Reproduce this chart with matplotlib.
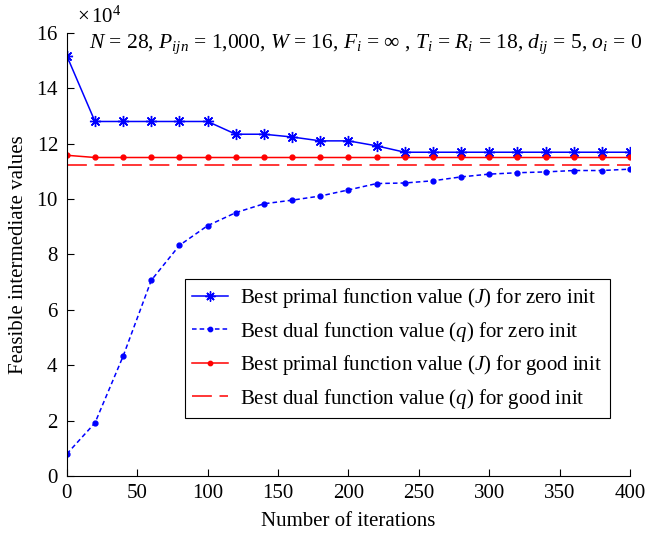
import numpy as np
import matplotlib
matplotlib.use("Agg")
import matplotlib.pyplot as plt

# data
iters = [0, 20, 40, 60, 80, 100, 120, 140, 160, 180, 200,
         220, 240, 260, 280, 300, 320, 340, 360, 380, 400]
primal_zero = [15.17, 12.8, 12.8, 12.8, 12.8, 12.8, 12.34, 12.34, 12.24, 12.1, 12.1,
               11.92, 11.69, 11.69, 11.69, 11.69, 11.69, 11.69, 11.69, 11.69, 11.69]
dual_zero = [0.8, 1.92, 4.33, 7.07, 8.33, 9.04, 9.51, 9.83, 9.96, 10.11, 10.33,
             10.56, 10.58, 10.66, 10.80, 10.90, 10.95, 10.98, 11.03, 11.03, 11.08]
primal_good = [11.58, 11.5, 11.5, 11.5, 11.5, 11.5, 11.5, 11.5, 11.5, 11.5, 11.5,
               11.5, 11.5, 11.5, 11.5, 11.5, 11.5, 11.5, 11.5, 11.5, 11.5]
dual_good = [11.22] * len(iters)

scale = 1e4
labels = [r"Best primal function value ($J$) for zero init",
          r"Best dual function value ($q$) for zero init",
          r"Best primal function value ($J$) for good init",
          r"Best dual function value ($q$) for good init"]


def main():
    plt.rcParams['font.family'] = ['Liberation Serif', 'DejaVu Serif']
    plt.rcParams['mathtext.fontset'] = 'custom'
    plt.rcParams['mathtext.rm'] = 'Liberation Serif'
    plt.rcParams['mathtext.it'] = 'Liberation Serif:italic'
    plt.rcParams['font.size'] = 15

    fig = plt.figure(figsize=(6.55, 5.38), dpi=100)
    ax = fig.add_axes([0.102, 0.115, 0.860, 0.824])

    x = np.array(iters)
    ax.plot(x, np.array(primal_zero) * scale, color='blue', lw=1.1,
            marker=(8, 2, 0), ms=8, mew=1.0, label=labels[0])
    ax.plot(x, np.array(dual_zero) * scale, color='blue', lw=1.1,
            linestyle=(0, (3, 2)), marker='.', ms=7, label=labels[1])
    ax.plot(x, np.array(primal_good) * scale, color='red', lw=1.1,
            marker='.', ms=7, label=labels[2])
    ax.plot(x, np.array(dual_good) * scale, color='red', lw=1.1,
            linestyle=(0, (13, 5)), label=labels[3])

    ax.set_xlim(0, 400)
    ax.set_ylim(0, 16 * scale)
    ax.set_xticks(np.arange(0, 401, 50))
    ax.set_yticks(np.arange(0, 16.1, 2) * scale)
    ax.ticklabel_format(axis='y', style='sci', scilimits=(4, 4), useMathText=True)
    ax.yaxis.get_offset_text().set_visible(False)
    ax.text(0.018, 1.012, r"$\times\,10^4$", transform=ax.transAxes,
            ha='left', va='bottom', fontsize=15)

    ax.spines['top'].set_visible(False)
    ax.spines['right'].set_visible(False)
    ax.tick_params(direction='in', length=5, width=0.8, pad=6)

    ax.set_xlabel("Number of iterations", labelpad=6)
    ax.set_ylabel("Feasible intermediate values", labelpad=6)

    ax.text(0.04, 0.975,
            r"$N$ = 28, $P_{ijn}$ = 1,000, $W$ = 16, $F_i$ = $\infty$ , "
            r"$T_i$ = $R_i$ = 18, $d_{ij}$ = 5, $o_i$ = 0",
            transform=ax.transAxes, ha='left', va='center', fontsize=15.5,
            clip_on=False)

    leg = ax.legend(loc='center left', bbox_to_anchor=(0.21, 0.288),
                    fancybox=False, edgecolor='black', framealpha=1,
                    handlelength=1.7, handletextpad=0.6, labelspacing=0.45,
                    borderpad=0.35, borderaxespad=0, markerscale=0.9)
    leg.get_frame().set_linewidth(0.8)

    fig.savefig('out.png', dpi=100)


if __name__ == '__main__':
    main()
